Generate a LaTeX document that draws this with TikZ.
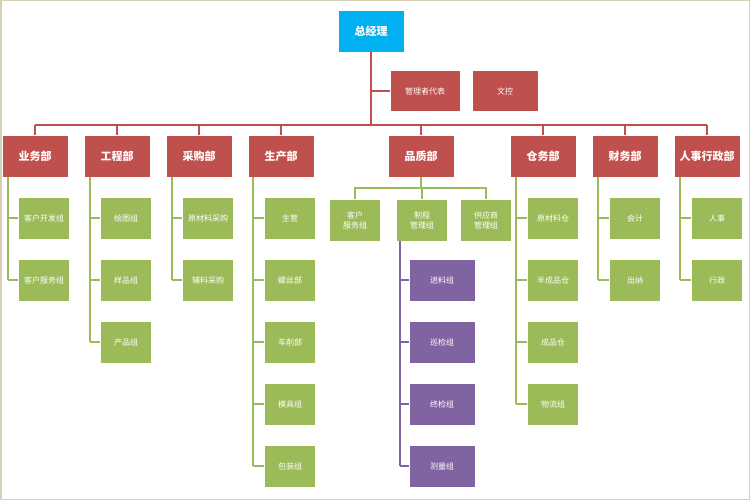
\documentclass[tikz,border=0pt]{standalone}
\usepackage{fontspec}
\setmainfont{Noto Sans CJK SC}
\begin{document}
\begin{tikzpicture}[x=1pt,y=-1pt,
  box/.style={draw=white,line width=0.6pt,text=white,inner sep=0pt,align=center,font=\fontsize{8}{10}\selectfont},
  top/.style={box,fill={rgb,255:red,0;green,176;blue,240},minimum width=66pt,minimum height=42pt,font=\fontsize{11}{13}\selectfont\bfseries},
  dept/.style={box,fill={rgb,255:red,192;green,80;blue,77},minimum width=66pt,minimum height=42pt,font=\fontsize{11}{13}\selectfont\bfseries},
  mid/.style={box,fill={rgb,255:red,192;green,80;blue,77},minimum width=70pt,minimum height=41pt,font=\fontsize{8}{10}\selectfont},
  sub/.style={box,fill={rgb,255:red,155;green,187;blue,89},minimum width=51pt,minimum height=42pt},
  pur/.style={box,fill={rgb,255:red,128;green,100;blue,162},minimum width=66pt,minimum height=42pt},
  rl/.style={draw={rgb,255:red,192;green,80;blue,77},line width=1.8pt},
  gl/.style={draw={rgb,255:red,155;green,187;blue,89},line width=1.8pt},
  pl/.style={draw={rgb,255:red,128;green,100;blue,162},line width=1.8pt}]
\fill[white] (0,0) rectangle (750,500);
\draw[draw={rgb,255:red,215;green,208;blue,180},line width=1.5pt] (0.75,0.75) rectangle (749.25,499.25);
\node[top] (ceo) at (371,31) {总经理};
\node[mid] (rep) at (425,91) {管理者代表};
\node[mid,minimum width=66pt] (doc) at (505,91) {文控};
\coordinate (bar) at (371,125);
\draw[rl] (ceo.south) -- (bar);
\draw[rl] (371,91) -- (rep.west);
\draw[rl] (35,125) -- (707,125);
\foreach \n/\x/\t in {d1/35/业务部,d2/117/工程部,d3/199/采购部,d4/281/生产部,d5/421/品质部,d6/543/仓务部,d7/625/财务部,d8/707/人事行政部}{
  \node[dept] (\n) at (\x,156) {\t};
  \draw[rl] (\x,125) -- (\n.north);
}
% green children with left spine
\foreach \d/\lx/\bx/\list in {d1/8/44/{客户开发组,客户服务组},d2/90/126/{绘图组,样品组,产品组},d3/172/208/{原材料采购,辅料采购},d4/253/290/{生管,螺丝部,车削部,模具组,包装组},d6/516/553/{原材料仓,半成品仓,成品仓,物流组},d7/598/635/{会计,出纳},d8/680/717/{人事,行政}}{
  \foreach \t [count=\i] in \list {
    \pgfmathsetmacro\yy{218+62*(\i-1)}
    \node[sub] (\d c\i) at (\bx,\yy) {\t};
    \draw[gl] (\lx,\yy) -- (\d c\i.west);
    \xdef\lasty{\yy}
  }
  \draw[gl] (\lx,177) -- (\lx,\lasty);
}
% quality dept
\node[sub] (q1) at (355,220) {客户\\服务组};
\node[sub] (q2) at (422,220) {制程\\管理组};
\node[sub] (q3) at (486,220) {供应商\\管理组};
\draw[gl] (d5.south) -- (421,188);
\draw[gl] (q1.north) -- (355,188) -- (486,188) -- (q3.north);
\draw[gl] (422,188) -- (q2.north);
\foreach \t [count=\i] in {进料组,巡检组,终检组,测量组}{
  \pgfmathsetmacro\yy{280+62*(\i-1)}
  \node[pur] (p\i) at (442,\yy) {\t};
  \draw[pl] (400,\yy) -- (p\i.west);
}
\draw[pl] (400,241) -- (400,466);
\end{tikzpicture}
\end{document}
